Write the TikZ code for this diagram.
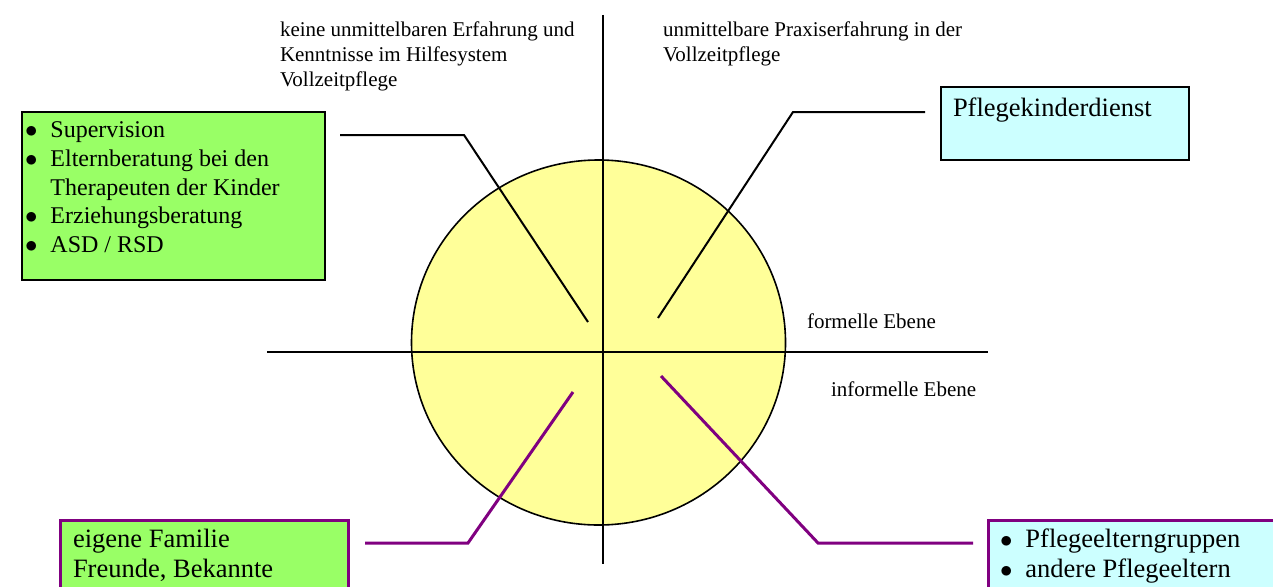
\documentclass[tikz,border=0pt]{standalone}
\usepackage{fontspec}
\setmainfont{Liberation Serif}
\usetikzlibrary{shapes.geometric}

\definecolor{boxgreen}{HTML}{99FF66}
\definecolor{boxcyan}{HTML}{CCFFFF}
\definecolor{discyellow}{HTML}{FFFF99}
\definecolor{linkpurple}{HTML}{800080}

\newcommand{\lblfont}{\fontsize{21}{25}\selectfont}
\newcommand{\smallboxfont}{\fontsize{24}{28.75}\selectfont}
\newcommand{\bigboxfont}{\fontsize{26.5}{30}\selectfont}
\newcommand{\bul}{$\bullet$}

\tikzset{
  axisline/.style={draw=black, line width=2pt},
  blacklink/.style={draw=black, line width=2pt},
  purplelink/.style={draw=linkpurple, line width=3pt},
  framebox/.style={anchor=north west, inner sep=0pt, outer sep=0pt, line width=2pt, draw=black},
  purplebox/.style={anchor=north west, inner sep=0pt, outer sep=0pt, line width=3pt, draw=linkpurple},
  lbl/.style={anchor=base west, inner sep=0pt, outer sep=0pt, font=\lblfont},
  boxtext/.style={anchor=base west, inner sep=0pt, outer sep=0pt},
}

\begin{document}
\begin{tikzpicture}[x=1pt, y=-1pt]
  \useasboundingbox (0,0) rectangle (1273,586);
  \clip (0,0) rectangle (1273,586);

  % central disc
  \node[ellipse, draw=black, line width=1.6pt, fill=discyellow,
        minimum width=374pt, minimum height=365pt, inner sep=0pt] (disc) at (598.5,342.5) {};

  % axes
  \coordinate (axtop) at (603,15);
  \coordinate (axbottom) at (603,564);
  \coordinate (axleft) at (267,352);
  \coordinate (axright) at (988,352);
  \draw[axisline] (axtop) -- (axbottom);
  \draw[axisline] (axleft) -- (axright);

  % quadrant labels
  \node[lbl] (lblnone) at (280,37) {\begin{tabular}[t]{@{}l@{}}keine unmittelbaren Erfahrung und\\Kenntnisse im Hilfesystem\\Vollzeitpflege\end{tabular}};
  \node[lbl] (lblpraxis) at (663,37) {\begin{tabular}[t]{@{}l@{}}unmittelbare Praxiserfahrung in der\\Vollzeitpflege\end{tabular}};
  \node[lbl] (lblformal) at (807,328) {formelle Ebene};
  \node[lbl] (lblinformal) at (831,396) {informelle Ebene};

  % connector end points
  \coordinate (tlA) at (340,135);
  \coordinate (tlB) at (464,135);
  \coordinate (tlC) at (588,322);
  \coordinate (trA) at (925,112);
  \coordinate (trB) at (793,112);
  \coordinate (trC) at (658,318);
  \coordinate (blA) at (365,543);
  \coordinate (blB) at (468,543);
  \coordinate (blC) at (573,392);
  \coordinate (brA) at (973,543);
  \coordinate (brB) at (818,543);
  \coordinate (brC) at (661,376);

  \draw[blacklink] (tlA) -- (tlB) -- (tlC);
  \draw[blacklink] (trA) -- (trB) -- (trC);
  \draw[purplelink] (blA) -- (blB) -- (blC);
  \draw[purplelink] (brA) -- (brB) -- (brC);

  % formal, without direct experience
  \node[framebox, fill=boxgreen, minimum width=303pt, minimum height=168pt] (support) at (22,112) {};
  \node[boxtext, font=\smallboxfont] (supporttext) at (25,137.5)
    {\begin{tabular}[t]{@{}l@{\hspace{13pt}}l@{}}
      \bul & Supervision\\
      \bul & Elternberatung bei den\\
           & Therapeuten der Kinder\\
      \bul & Erziehungsberatung\\
      \bul & ASD / RSD
     \end{tabular}};

  % formal, with direct experience
  \node[framebox, fill=boxcyan, minimum width=248pt, minimum height=73pt] (pkd) at (941,87) {};
  \node[boxtext, font=\bigboxfont] (pkdtext) at (953,116) {Pflegekinderdienst};

  % informal, without direct experience
  \node[purplebox, fill=boxgreen, minimum width=288pt, minimum height=90pt] (family) at (60,520) {};
  \node[boxtext, font=\bigboxfont] (familytext) at (73,547)
    {\begin{tabular}[t]{@{}l@{}}eigene Familie\\Freunde, Bekannte\end{tabular}};

  % informal, with direct experience
  \node[purplebox, fill=boxcyan, minimum width=310pt, minimum height=90pt] (peers) at (988,520) {};
  \node[boxtext, font=\bigboxfont] (peerstext) at (1000,547)
    {\begin{tabular}[t]{@{}l@{\hspace{13pt}}l@{}}
      \bul & Pflegeelterngruppen\\
      \bul & andere Pflegeeltern
     \end{tabular}};
\end{tikzpicture}
\end{document}
